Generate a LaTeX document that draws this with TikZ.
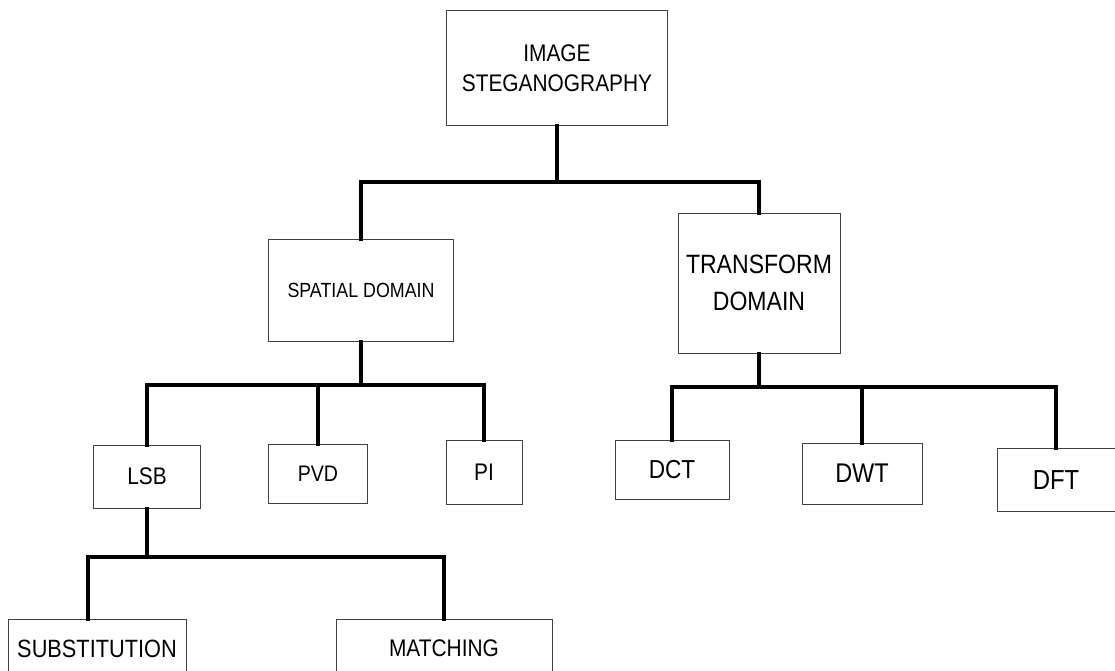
\documentclass[tikz,border=0pt]{standalone}
\usepackage{fontspec}
\setmainfont{Liberation Sans}[FakeStretch=0.87]
\usetikzlibrary{positioning}

\begin{document}
\begin{tikzpicture}[x=1pt,y=-1pt]
  \tikzset{box/.style = {draw=black!75, line width=1pt, fill=white,
                         inner sep=0pt, align=center,
                         font=\fontsize{24}{30}\selectfont}}
  \tikzset{conn/.style = {line width=4pt, line cap=rect, line join=miter}}
  \useasboundingbox (0,0) rectangle (1115,670);

  \node[box, minimum width=221pt, minimum height=115pt] (steg) at (557,68) {IMAGE\\STEGANOGRAPHY};

  \node[box, minimum width=185pt, minimum height=102pt,
        font=\fontsize{20.5}{24}\selectfont] (spat) at (361,290.5) {SPATIAL DOMAIN};
  \node[box, minimum width=162pt, minimum height=140pt,
        font=\fontsize{26.5}{36.5}\selectfont] (trans) at (759,283) {TRANSFORM\\DOMAIN};

  \node[box, minimum width=107pt, minimum height=63pt] (lsb) at (147,476.5) {LSB};
  \node[box, minimum width=99pt, minimum height=59pt,
        font=\fontsize{22.5}{26}\selectfont] (pvd) at (318,473.5) {PVD};
  \node[box, minimum width=76pt, minimum height=64pt] (pi) at (484,472) {PI};

  \node[box, minimum width=114pt, minimum height=59pt,
        font=\fontsize{26}{30}\selectfont] (dct) at (672,470) {DCT};
  \node[box, minimum width=120pt, minimum height=61pt,
        font=\fontsize{27}{30}\selectfont] (dwt) at (862,473.5) {DWT};
  \node[box, minimum width=118pt, minimum height=63pt,
        font=\fontsize{27.5}{30}\selectfont] (dft) at (1056,480) {DFT};

  \node[box, anchor=north, minimum width=178pt, minimum height=58pt,
        font=\fontsize{25}{30}\selectfont] (subs) at (97,619) {SUBSTITUTION};
  \node[box, anchor=north, minimum width=216pt, minimum height=58pt] (match) at (444,619) {MATCHING};

  % bar heights
  \coordinate (b1) at (0,182);
  \coordinate (b2) at (0,385);
  \coordinate (b3) at (0,386.5);
  \coordinate (b4) at (0,557);

  \draw[conn] (steg.south) -- (steg.south |- b1);
  \draw[conn] (spat.north) -- (spat.north |- b1) -- (trans.north |- b1) -- (trans.north);

  \draw[conn] (spat.south) -- (spat.south |- b2);
  \draw[conn] (lsb.north) -- (lsb.north |- b2) -- (pi.north |- b2) -- (pi.north);
  \draw[conn] (pvd.north) -- (pvd.north |- b2);

  \draw[conn] (trans.south) -- (trans.south |- b3);
  \draw[conn] (dct.north) -- (dct.north |- b3) -- (dft.north |- b3) -- (dft.north);
  \draw[conn] (dwt.north) -- (dwt.north |- b3);

  \draw[conn] (lsb.south) -- (lsb.south |- b4);
  \draw[conn] ([xshift=-9pt]subs.north) -- ([xshift=-9pt]subs.north |- b4) -- (match.north |- b4) -- (match.north);
\end{tikzpicture}
\end{document}
